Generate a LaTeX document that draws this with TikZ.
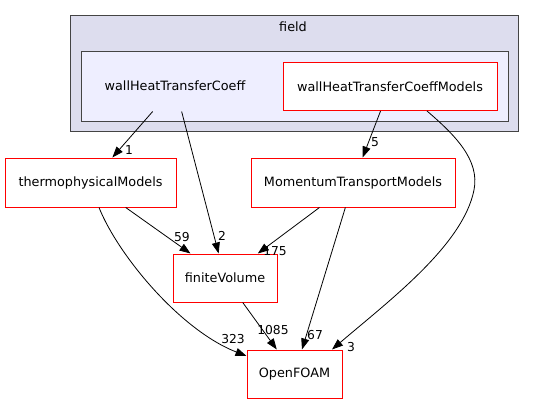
\documentclass[tikz,border=0pt]{standalone}
\usepackage{fontspec}
\setmainfont{DejaVu Sans}
\usetikzlibrary{arrows.meta}
\definecolor{clusterout}{HTML}{DDDDEE}
\definecolor{clusterin}{HTML}{EEEEFF}
\definecolor{clusterline}{HTML}{444444}

\begin{document}
\begin{tikzpicture}[x=1pt, y=-1pt, >={Triangle[length=11pt,width=8pt]},
	dir/.style={draw=red, fill=white, line width=1pt, minimum height=48pt, inner sep=0pt, font=\fontsize{12.8}{15}\selectfont},
	num/.style={inner sep=0pt, font=\fontsize{12.3}{14}\selectfont},
	dep/.style={->, line width=0.8pt}]
			\useasboundingbox (0,0) rectangle (535,404);
			
			\draw [clusterline, fill=clusterout, line width=1pt] (70.5,15.5) rectangle (518.5,131.5);
			\draw [clusterline, fill=clusterin, line width=1pt] (81.5,51.5) rectangle (508,121.5);
			\node [num, font=\fontsize{12.8}{15}\selectfont] (field) at (293, 27) {field};
			
			\node [dir, draw=none, fill=none, minimum width=160pt, minimum height=50pt] (htc) at (175,86) {wallHeatTransferCoeff};
			\node [dir, minimum width=214pt] (models) at (390,86.5) {wallHeatTransferCoeffModels};
			
			\node [dir, minimum width=171pt, minimum height=49pt] (thermo) at (90.5,182.5) {thermophysicalModels};
			\node [dir, minimum width=204pt, minimum height=49pt] (momentum) at (353,182.5) {MomentumTransportModels};
			\node [dir, minimum width=104pt] (fv) at (225,278) {finiteVolume};
			\node [dir, minimum width=95pt] (foam) at (294.5,374) {OpenFOAM};
			
			\draw [dep] (htc) -- (thermo);
			\draw [dep] (htc) -- (fv);
			\draw [dep] (models) -- (momentum);
			\draw [dep] ([xshift=37pt]models.south) .. controls (455,135) and (480,160) .. (474,190) .. controls (463,245) and (390,300) .. ([xshift=37.5pt]foam.north);
			\draw [dep] (thermo) -- (fv);
			\draw [dep] ([xshift=8.5pt]thermo.south) .. controls (118,255) and (180,330) .. ([yshift=18pt]foam.west);
			\draw [dep] (momentum) -- (fv);
			\draw [dep] (momentum) -- (foam);
			\draw [dep] (fv) -- (foam);
			
			\node [num] (n1) at (129,150) {1};
			\node [num] (n2) at (222,236) {2};
			\node [num] (n5) at (375,142) {5};
			\node [num] (n59) at (182,237) {59};
			\node [num] (n175) at (275,251) {175};
			\node [num] (n323) at (233,339) {323};
			\node [num] (n1085) at (273,330) {1085};
			\node [num] (n67) at (315,335) {67};
			\node [num] (n3) at (351,347) {3};
		\end{tikzpicture}
\end{document}
